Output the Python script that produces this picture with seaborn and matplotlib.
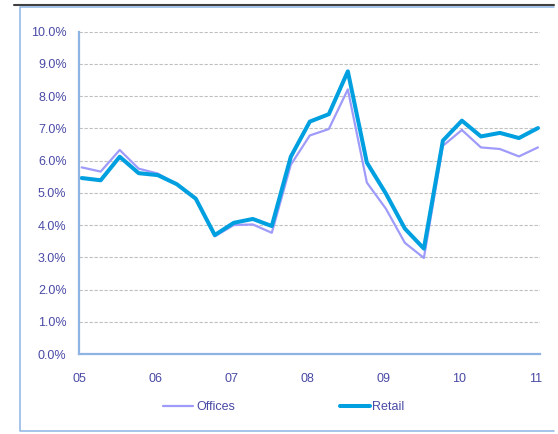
import pandas as pd
import seaborn as sns
import matplotlib.pyplot as plt
from matplotlib.lines import Line2D

# Quarterly yields, Q1 2005 to Q1 2011 (%)
quarter_index = list(range(25))
year_labels = ["05", "06", "07", "08", "09", "10", "11"]
offices = [5.79, 5.66, 6.33, 5.75, 5.60, 5.27, 4.82, 3.65, 4.00, 4.02, 3.76, 5.87, 6.78,
           6.98, 8.21, 5.32, 4.51, 3.45, 2.98, 6.46, 6.95, 6.41, 6.36, 6.13, 6.41]
retail = [5.46, 5.39, 6.12, 5.61, 5.55, 5.27, 4.82, 3.69, 4.07, 4.19, 3.97, 6.12, 7.21,
          7.44, 8.77, 5.94, 4.98, 3.89, 3.27, 6.62, 7.24, 6.75, 6.86, 6.70, 7.01]

df = pd.DataFrame({"q": quarter_index, "Offices": offices, "Retail": retail})

sns.set_theme(style="white")
plt.rcParams["font.family"] = ["Liberation Sans", "DejaVu Sans"]

text_color = "#4A4AA6"
axis_color = "#8DB4E2"
office_color = "#9F9BFA"
retail_color = "#00A0E0"

fig = plt.figure(figsize=(5.58, 4.34), dpi=100)
ax = fig.add_axes([0.1416, 0.1843, 0.8262, 0.7427])

sns.lineplot(data=df, x="q", y="Offices", ax=ax, color=office_color, linewidth=1.6)
sns.lineplot(data=df, x="q", y="Retail", ax=ax, color=retail_color, linewidth=2.9)

ax.set_xlim(-0.14, 24.11)
ax.set_ylim(0, 10)
ax.set_xticks([4 * k - 0.125 for k in range(len(year_labels))])
ax.set_xticklabels(year_labels)
ax.set_yticks(range(0, 11))
ax.set_yticklabels([f"{v:.1f}%" for v in range(0, 11)])
ax.set_xlabel("")
ax.set_ylabel("")

ax.yaxis.grid(True, color="#C0C0C0", linestyle=(0, (3, 1.5)), linewidth=0.8)
ax.xaxis.grid(False)
ax.set_axisbelow(True)

for side in ("top", "right"):
    ax.spines[side].set_visible(False)
for side in ("left", "bottom"):
    ax.spines[side].set_color(axis_color)
    ax.spines[side].set_linewidth(1.6)

ax.tick_params(axis="both", direction="out", length=3, width=1, color=axis_color,
               labelsize=9, labelcolor=text_color, pad=6)
ax.tick_params(axis="x", pad=11)

handles = [Line2D([], [], color=office_color, linewidth=1.6),
           Line2D([], [], color=retail_color, linewidth=2.9)]
leg = fig.legend(handles, ["Offices", "Retail"], loc="center", bbox_to_anchor=(0.509, 0.062),
                 ncol=2, frameon=False, fontsize=9, handlelength=2.4, handletextpad=0.2,
                 columnspacing=8.4)
for t in leg.get_texts():
    t.set_color(text_color)

# Page rule and chart frame
fig.add_artist(Line2D([0.025, 0.993], [0.9885, 0.9885], transform=fig.transFigure,
                      color="#404040", linewidth=1.5))
fig.add_artist(Line2D([0.993, 0.0367, 0.0367, 0.993], [0.9839, 0.9839, 0.0058, 0.0058],
                      transform=fig.transFigure, color=axis_color, linewidth=1.1))

fig.savefig("out.png", dpi=100)
